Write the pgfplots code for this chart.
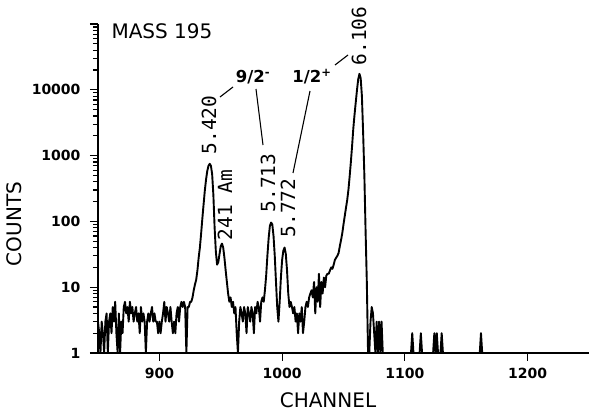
\documentclass[border=0pt]{standalone}
\usepackage{fontspec}
\setmainfont{DejaVu Sans}
\newfontfamily\mono{DejaVu Sans Mono}
\usepackage{pgfplots}
\pgfplotsset{compat=1.18}

\pgfplotstableread{
ch c
850 3
851 2
852 1
853 3
854 2
855 1
856 3
857 4
858 1
859 3
860 4
861 2
862 5
863 3
864 6
865 2
866 1
867 4
868 1
869 3
870 2
871 5
872 6
873 4
874 5
875 3
876 6
877 4
878 5
879 3
880 4
881 5
882 3
883 4
884 2
885 5
886 3
887 4
888 3
889 1
890 3
891 4
892 3
893 4
894 5
895 3
896 4
897 3
898 3
899 2
900 3
901 2
902 3
903 4
904 6
905 3
906 5
907 4
908 3
909 5
910 3
911 2
912 3
913 2
914 4
915 5
916 3
917 5
918 6
919 5
920 6
921 5
922 1
923 5
924 5
925 6
926 6
927 7
928 9
929 11
930 13
931 18
932 28
933 40
934 65
935 110
936 180
937 290
938 430
939 580
940 700
941 750
942 700
943 520
944 250
945 80
946 35
947 22
948 24
949 32
950 42
951 46
952 40
953 28
954 18
955 12
956 8
957 6
958 7
959 5
960 6
961 4
962 5
963 2
964 1
965 3
966 5
967 4
968 3
969 5
970 4
971 2
972 5
973 4
974 3
975 5
976 4
977 2
978 5
979 4
980 6
981 5
982 3
983 6
984 7
985 6
986 9
987 15
988 30
989 55
990 85
991 96
992 90
993 60
994 30
995 12
996 5
997 3
998 6
999 14
1000 26
1001 36
1002 40
1003 32
1004 18
1005 8
1006 5
1007 6
1008 5
1009 4
1010 5
1011 3
1012 4
1013 2
1014 4
1015 3
1016 5
1017 2
1018 3
1019 5
1020 6
1021 5
1022 7
1023 8
1024 9
1025 7
1026 12
1027 4
1028 10
1029 6
1030 16
1031 5
1032 12
1033 8
1034 14
1035 10
1036 15
1037 16
1038 16
1039 18
1040 20
1041 19
1042 22
1043 26
1044 28
1045 30
1046 33
1047 42
1048 52
1049 66
1050 90
1051 120
1052 160
1053 210
1054 300
1055 480
1056 800
1057 1400
1058 2600
1059 4200
1060 6500
1061 10000
1062 14500
1063 17500
1064 15000
1065 8000
1066 2200
1067 500
1068 70
1069 12
1070 1
1071 1
1072 3
1073 5
1074 4
1075 2
1076 1
1077 3
1078 1
1079 3
1080 1
1081 3
1082 1
1105 1
1106 2
1107 1
1112 1
1113 2
1114 1
1123 1
1124 2
1125 1
1126 2
1127 1
1129 1
1130 2
1131 1
1161 1
1162 2
1163 1
1250 1
}\spectrum

\begin{document}
\begin{tikzpicture}
\path[use as bounding box] (-98pt,-60pt) rectangle (491pt,353pt);
\begin{axis}[
	anchor=origin, at={(0pt,0pt)},
	width=491pt, height=329pt, scale only axis,
	ymode=log,
	xmin=850, xmax=1250,
	ymin=1, ymax=100000,
	axis x line=bottom, axis y line=left,
	axis line style={-, line width=1.4pt},
	xtick={900,1000,1100,1200},
	xticklabels={900,1000,1100,1200},
	ytick={1,10,100,1000,10000,100000},
	yticklabels={1,10,100,1000,10000,},
	tick align=outside,
	major tick length=8pt, minor tick length=5pt,
	tick style={line width=1.1pt, black},
	ticklabel style={font=\bfseries\fontsize{14}{14}\selectfont},
	xticklabel style={yshift=-4pt},
	yticklabel style={xshift=-6pt},
	clip=false,
]
\addplot[black, line width=1.9pt, line join=round] table[x=ch, y=c] {\spectrum};
\end{axis}

\node[anchor=base west, font=\fontsize{20}{20}\selectfont] at (10pt,314pt) {MASS 195};
\node[rotate=90, font=\fontsize{20}{20}\selectfont] at (-84pt,129pt) {COUNTS};
\node[font=\fontsize{20}{20}\selectfont] at (230pt,-47pt) {CHANNEL};

\begin{scope}[every node/.style={rotate=90, font=\mono\fontsize{19.5}{19.5}\selectfont, inner sep=0pt}]
\node at (111pt,228pt) {5.420};
\node at (127pt,148pt) {241 Am};
\node at (170pt,170pt) {5.713};
\node at (190pt,145pt) {5.772};
\node at (261pt,317pt) {6.106};
\end{scope}

\node[font=\bfseries\fontsize{16.5}{16.5}\selectfont, inner sep=0pt] at (155pt,276pt) {9/2\textsuperscript{-}};
\node[font=\bfseries\fontsize{16.5}{16.5}\selectfont, inner sep=0pt] at (214pt,276pt) {1/2\textsuperscript{+}};

\draw[line width=1.1pt] (122pt,256pt) -- (135pt,266pt);
\draw[line width=1.1pt] (158pt,264pt) -- (165pt,208pt);
\draw[line width=1.1pt] (212pt,262pt) -- (195pt,180pt);
\draw[line width=1.1pt] (237pt,288pt) -- (250pt,298pt);
\end{tikzpicture}
\end{document}
